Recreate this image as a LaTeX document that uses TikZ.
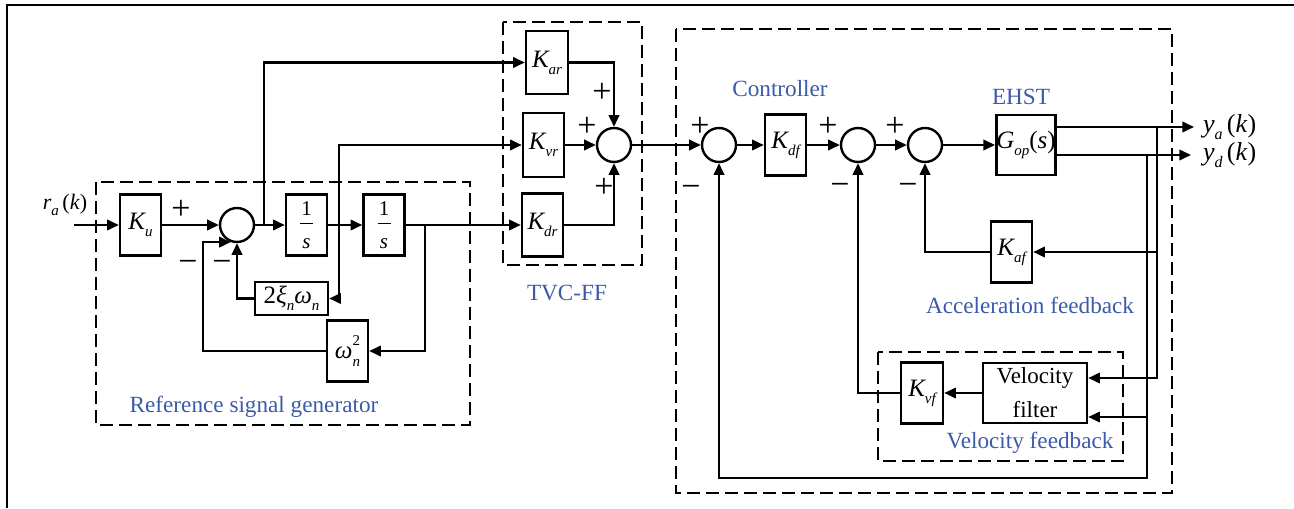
\documentclass[tikz,border=0pt]{standalone}
\usepackage{fontspec}
\setmainfont{Liberation Serif}
\usetikzlibrary{arrows.meta,calc}
\definecolor{lblue}{RGB}{60,90,170}
\newcommand{\iv}[2]{{\itshape #1}\raisebox{-0.6ex}{\fontsize{7.5}{7.5}\selectfont\itshape #2}}
\newcommand{\frc}{1\\[-5.5pt]\rule{6.5pt}{0.5pt}\\[2pt]\textit{s}}
\begin{document}
\begin{tikzpicture}[x=0.5pt,y=-0.5pt,
  line width=1.1pt,
  >={Triangle[length=5.8pt,width=5.2pt]},
  blk/.style={draw,line width=1.25pt,inner sep=0pt,font=\fontsize{12.5}{12.5}\selectfont},
  gain/.style={blk,minimum width=20.5pt,minimum height=30.5pt},
  frbox/.style={gain,align=center,font=\fontsize{10.5}{10}\selectfont},
  sumc/.style={draw,circle,line width=1.2pt,minimum size=17pt,inner sep=0pt},
  grp/.style={draw,dash pattern=on 6.5pt off 3pt,line width=1.1pt},
  lbl/.style={text=lblue,font=\fontsize{11.6}{12}\selectfont,inner sep=0pt},
  sgn/.style={font=\fontsize{17}{17}\selectfont,inner sep=0pt},
  io/.style={font=\fontsize{13}{13}\selectfont,inner sep=0pt}]

\useasboundingbox (0,0) rectangle (1294,508);
\draw[line width=1.4pt] (7,508) -- (7,5) -- (1294,5);

% group boxes
\draw[grp] (96,182) rectangle (470,425);
\draw[grp] (503,22) rectangle (642,265);
\draw[grp] (676,29) rectangle (1172,493);
\draw[grp] (878,352) rectangle (1123,461);

% blocks
\node[gain] (Ku) at (140.5,225) {\iv{K}{u}};
\node[sumc] (s1) at (237,225) {};
\node[frbox] (I1) at (306.5,225) {\frc};
\node[frbox] (I2) at (384,225) {\frc};
\node[blk,minimum width=36.5pt,minimum height=16.5pt] (Z) at (291.5,298.5) {2\iv{ξ}{n}\iv{ω}{n}};
\node[gain] (W) at (347.5,351) {{\itshape ω}\makebox[0pt][l]{\raisebox{1.1ex}{\fontsize{7.5}{7.5}\selectfont 2}}\raisebox{-0.7ex}{\fontsize{7.5}{7.5}\selectfont\itshape n}};
\node[gain,minimum width=21pt,minimum height=31.5pt] (Kar) at (547,62.5) {\iv{K}{ar}};
\node[gain,minimum height=32pt] (Kvr) at (543.5,145) {\iv{K}{vr}};
\node[gain,minimum height=31.5pt] (Kdr) at (542.5,225) {\iv{K}{dr}};
\node[sumc] (s2) at (614,145) {};
\node[sumc] (s3) at (719,145) {};
\node[gain] (Kdf) at (785.5,145) {\iv{K}{df}};
\node[sumc] (s4) at (858,145) {};
\node[sumc] (s5) at (925,145) {};
\node[blk,minimum width=29pt,minimum height=30pt] (G) at (1026,145) {\iv{G}{op}(\textit{s})};
\node[gain] (Kaf) at (1011.5,252) {\iv{K}{af}};
\node[gain,minimum width=21pt] (Kvf) at (922,393) {\iv{K}{vf}};
\node[blk,minimum width=52pt,minimum height=30pt,align=center,font=\fontsize{11.5}{17}\selectfont] (VF) at (1035,393) {Velocity\\filter};

% coordinates
\coordinate (in) at (74,225);
\coordinate (b1) at (264,225);
\coordinate (b2) at (339,225);
\coordinate (b3) at (425,225);
\coordinate (fbW) at (203,0);
\coordinate (ya) at (1194,127);
\coordinate (yd) at (1191,155);
\coordinate (ta) at (1157,127);
\coordinate (tb) at (1147,155);
\coordinate (bot) at (1147,478);
\coordinate (vf1) at ([yshift=7.5pt]VF.east);
\coordinate (vf2) at ([yshift=-12pt]VF.east);

% connectors
\draw[->] (in) -- (Ku.west);
\draw[->] (Ku.east) -- (s1.west);
\draw[->] (s1.east) -- (I1.west);
\draw[->] (b1) |- (Kar.west);
\draw[->] (I1.east) -- (I2.west);
\draw[->] (b2) |- (Kvr.west);
\draw[->] (b2) |- (Z.east);
\draw[->] (I2.east) -- (Kdr.west);
\draw[->] (b3) |- (W.east);
\draw[->] (Z.west) -| (s1.south);
\draw[->] (W.west) -| (fbW |- s1.250) -- (s1.250);
\draw[->] (Kar.east) -| (s2.north);
\draw[->] (Kvr.east) -- (s2.west);
\draw[->] (Kdr.east) -| (s2.south);
\draw[->] (s2.east) -- (s3.west);
\draw[->] (s3.east) -- (Kdf.west);
\draw[->] (Kdf.east) -- (s4.west);
\draw[->] (s4.east) -- (s5.west);
\draw[->] (s5.east) -- (G.west);
\draw[->] (G.east |- ya) -- (ya);
\draw[->] (G.east |- yd) -- (yd);
\draw[->] (ta) |- (vf1);
\draw[->] (ta |- Kaf.east) -- (Kaf.east);
\draw[->] (tb |- vf2) -- (vf2);
\draw[->] (tb) -- (bot) -| (s3.south);
\draw[->] (Kaf.west) -| (s5.south);
\draw[->] (VF.west) -- (Kvf.east);
\draw[->] (Kvf.west) -| (s4.south);

% signs
\node[sgn] (p1) at (181,210) {+};
\node[sgn] (m1) at (188,266) {−};
\node[sgn] (m2) at (222,266) {−};
\node[sgn] (p2) at (602,93) {+};
\node[sgn] (p3) at (587,127) {+};
\node[sgn] (p4) at (604,188) {+};
\node[sgn] (p5) at (700,127) {+};
\node[sgn] (m3) at (691,191) {−};
\node[sgn] (p6) at (828,127) {+};
\node[sgn] (m4) at (840,189) {−};
\node[sgn] (p7) at (895,127) {+};
\node[sgn] (m5) at (908,189) {−};

% io labels
\node[io,font=\fontsize{11}{11}\selectfont] (ra) at (65,205) {{\itshape r}\raisebox{-0.6ex}{\fontsize{7.5}{7.5}\selectfont\itshape a}\,(\textit{k})};
\node[io,anchor=west] (yal) at (1202,127) {{\itshape y}\raisebox{-0.6ex}{\fontsize{8}{8}\selectfont\itshape a}\,(\textit{k})};
\node[io,anchor=west] (ydl) at (1202,155) {{\itshape y}\raisebox{-0.6ex}{\fontsize{8}{8}\selectfont\itshape d}\,(\textit{k})};

% group labels
\node[lbl] (lrsg) at (254,407) {Reference signal generator};
\node[lbl] (ltvc) at (567,293) {TVC-FF};
\node[lbl] (lctl) at (780,89) {Controller};
\node[lbl] (lehst) at (1021,97) {EHST};
\node[lbl] (lacc) at (1030,305) {Acceleration feedback};
\node[lbl] (lvel) at (1030,443) {Velocity feedback};
\end{tikzpicture}
\end{document}
